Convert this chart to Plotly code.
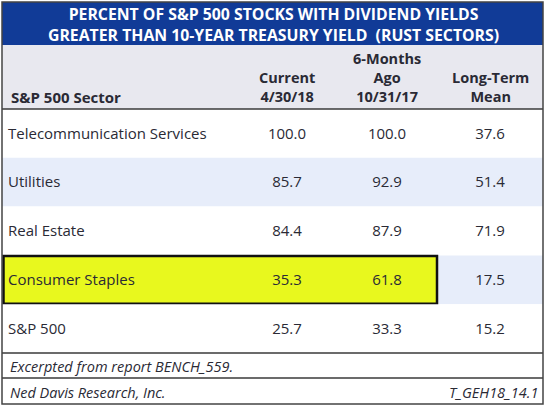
import plotly.graph_objects as go

# ---- data ----
title_lines = ["PERCENT OF S&P 500 STOCKS WITH DIVIDEND YIELDS",
               "GREATER THAN 10-YEAR TREASURY YIELD  (RUST SECTORS)"]
sectors = ["Telecommunication Services", "Utilities", "Real Estate",
           "Consumer Staples", "S&P 500"]
current = [100.0, 85.7, 84.4, 35.3, 25.7]
six_months_ago = [100.0, 92.9, 87.9, 61.8, 33.3]
long_term_mean = [37.6, 51.4, 71.9, 17.5, 15.2]
header_sector = "S&P 500 Sector"
header_cols = [["Current", "4/30/18"], ["6-Months", "Ago", "10/31/17"], ["Long-Term", "Mean"]]
highlight = "Consumer Staples"
footnote = "Excerpted from report BENCH_559."
source_left = "Ned Davis Research, Inc."
source_right = "T_GEH18_14.1"

# ---- layout constants ----
W, H = 547, 409
L, R, T, B = 2, 543, 2, 404
title_bottom = 45
header_bottom = 109
row_h = 48.8
foot1 = header_bottom + row_h * len(sectors)   # 353
foot2 = 378
col_x = [287, 387, 490]
text_col = "#2a2a35"
FONT = "Open Sans"

fig = go.Figure()
shapes = []
# title band
shapes.append(dict(type="rect", x0=L, x1=R, y0=T, y1=title_bottom, fillcolor="#113b97", line_width=0, layer="below"))
# header band
shapes.append(dict(type="rect", x0=L, x1=R, y0=title_bottom, y1=header_bottom, fillcolor="#e8e8ef", line_width=0, layer="below"))
# row bands
for i, s in enumerate(sectors):
    y0 = header_bottom + i * row_h
    y1 = y0 + row_h
    fill = "#e7edfa" if i % 2 == 1 else "white"
    shapes.append(dict(type="rect", x0=L, x1=R, y0=y0, y1=y1, fillcolor=fill, line_width=0, layer="below"))
    if s == highlight:
        shapes.append(dict(type="rect", x0=L + 1.5, x1=437, y0=y0 + 0.5, y1=y1 - 0.5,
                           fillcolor="#e8f81e", line=dict(color="#111111", width=2.5), layer="below"))
# rules
for y in [header_bottom, foot1, foot2]:
    shapes.append(dict(type="line", x0=L, x1=R, y0=y, y1=y, line=dict(color="#3a3a3a", width=1.5)))
# outer border
shapes.append(dict(type="rect", x0=L, x1=R, y0=T, y1=B, line=dict(color="#444444", width=1.5), fillcolor="rgba(0,0,0,0)"))

row_y = [header_bottom + (i + 0.5) * row_h + 1.5 for i in range(len(sectors))]

# sector names
fig.add_trace(go.Scatter(x=[8] * len(sectors), y=row_y, mode="text", text=sectors,
                         textposition="middle right",
                         textfont=dict(family=FONT, size=15, color=text_col),
                         hoverinfo="skip", showlegend=False))
# value columns
for cx, vals in zip(col_x, [current, six_months_ago, long_term_mean]):
    fig.add_trace(go.Scatter(x=[cx] * len(vals), y=row_y, mode="text",
                             text=[f"{v:.1f}" for v in vals], textposition="middle center",
                             textfont=dict(family=FONT, size=15, color=text_col),
                             hoverinfo="skip", showlegend=False))

ann = []
# title
ann.append(dict(x=(L + R) / 2 + 1, y=24, text="<br>".join("<b>" + t + "</b>" for t in title_lines),
                showarrow=False, xanchor="center", yanchor="middle", align="center",
                font=dict(family=FONT, size=15.8, color="white")))
# headers
ann.append(dict(x=9, y=97, text="<b>" + header_sector + "</b>", showarrow=False, xanchor="left",
                yanchor="middle", font=dict(family=FONT, size=15, color=text_col)))
for cx, lines in zip(col_x, header_cols):
    ann.append(dict(x=cx, y=107.5, text="<br>".join("<b>" + l + "</b>" for l in lines), showarrow=False,
                    xanchor="center", yanchor="bottom", align="center",
                    font=dict(family=FONT, size=14.5, color=text_col)))
# footers
ann.append(dict(x=8, y=(foot1 + foot2) / 2 + 1, text="<i>" + footnote + "</i>", showarrow=False, xanchor="left",
                yanchor="middle", font=dict(family=FONT, size=14.5, color=text_col)))
ann.append(dict(x=8, y=(foot2 + B) / 2 + 1, text="<i>" + source_left + "</i>", showarrow=False, xanchor="left",
                yanchor="middle", font=dict(family=FONT, size=14.5, color=text_col)))
ann.append(dict(x=540, y=(foot2 + B) / 2 + 1, text="<i>" + source_right + "</i>", showarrow=False, xanchor="right",
                yanchor="middle", font=dict(family=FONT, size=14.5, color=text_col)))

fig.update_layout(
    width=W, height=H, margin=dict(l=0, r=0, t=0, b=0),
    paper_bgcolor="white", plot_bgcolor="white",
    xaxis=dict(range=[0, W], visible=False, fixedrange=True),
    yaxis=dict(range=[H, 0], visible=False, fixedrange=True),
    shapes=shapes, annotations=ann, showlegend=False,
)
fig.write_html("out.html", config={"displayModeBar": False},
               post_script="document.body.style.margin='0';document.body.style.overflow='hidden';")
